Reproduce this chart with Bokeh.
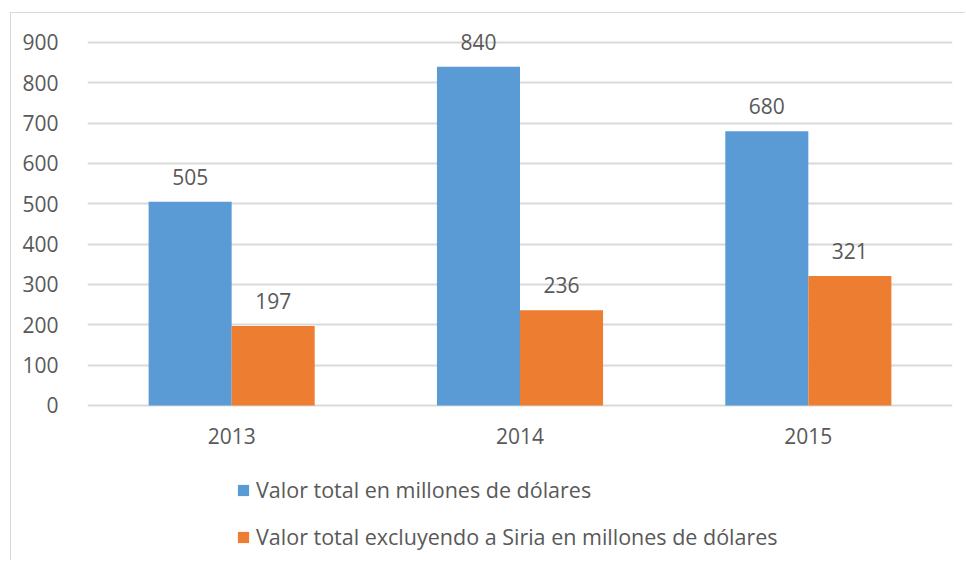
from bokeh.plotting import figure
from bokeh.models import ColumnDataSource, LabelSet, Legend, LegendItem, FixedTicker
from bokeh.core.properties import value
from bokeh.transform import dodge
from bokeh.embed import file_html
from bokeh.resources import INLINE

years = ["2013", "2014", "2015"]
total = [505, 840, 680]
sin_siria = [197, 236, 321]
series_names = ["Valor total en millones de dólares",
                "Valor total excluyendo a Siria en millones de dólares"]
y_ticks = [0, 100, 200, 300, 400, 500, 600, 700, 800, 900]

BLUE = "#5B9BD5"
ORANGE = "#ED7D31"
TEXT = "#595959"
GRID = "#D9D9D9"
FONT = "Open Sans"
FS = "21px"
LFS = "21.5px"

src = ColumnDataSource(dict(x=years, total=total, sin=sin_siria, zero=[0] * len(years),
                            total_lbl=[str(v) for v in total],
                            sin_lbl=[str(v) for v in sin_siria]))

# frame extends to the bottom of the figure so the legend and year labels are not clipped
p = figure(x_range=years, y_range=(-387, 959.5), width=955, height=548,
           output_backend="svg", toolbar_location=None, x_axis_location=None,
           min_border_left=76, min_border_right=14, min_border_top=5, min_border_bottom=0,
           margin=(12, 0, 0, 10))
p.styles = {"border-left": "1px solid #D9D9D9", "border-top": "1px solid #D9D9D9"}
p.outline_line_color = None
p.x_range.range_padding = 0

W = 0.288
r1 = p.vbar(x=dodge("x", -W / 2, range=p.x_range), top="total", width=W, source=src,
            fill_color=BLUE, line_color=None)
r2 = p.vbar(x=dodge("x", W / 2, range=p.x_range), top="sin", width=W, source=src,
            fill_color=ORANGE, line_color=None)

for col, off in (("total", -W / 2), ("sin", W / 2)):
    p.add_layout(LabelSet(x=dodge("x", off, range=p.x_range), y=col, text=col + "_lbl",
                          source=src, y_offset=25, text_align="center",
                          text_baseline="middle", text_font=value(FONT),
                          text_font_size=value(FS), text_color=TEXT))

# category labels below the zero line
p.add_layout(LabelSet(x="x", y="zero", text="x", source=src, y_offset=-31,
                      text_align="center", text_baseline="middle", text_font=value(FONT),
                      text_font_size=value(FS), text_color=TEXT))

p.yaxis.ticker = FixedTicker(ticks=y_ticks)
p.yaxis.axis_line_color = None
p.yaxis.major_tick_line_color = None
p.yaxis.minor_tick_line_color = None
p.yaxis.major_label_standoff = 23
p.yaxis.major_label_text_font = FONT
p.yaxis.major_label_text_font_size = FS
p.yaxis.major_label_text_color = TEXT

p.xgrid.grid_line_color = None
p.ygrid.ticker = FixedTicker(ticks=y_ticks)
p.ygrid.grid_line_color = GRID
p.ygrid.grid_line_width = 2

legend = Legend(items=[LegendItem(label=series_names[0], renderers=[r1]),
                       LegendItem(label=series_names[1], renderers=[r2])],
                location=(149, 10), orientation="vertical",
                glyph_width=14, glyph_height=14, label_standoff=6,
                label_text_font=FONT, label_text_font_size=LFS, label_text_color=TEXT,
                label_height=24, spacing=18, padding=0, margin=0,
                border_line_color=None, background_fill_alpha=0)
p.add_layout(legend, "center")

open("out.html", "w").write(file_html(p, INLINE))
